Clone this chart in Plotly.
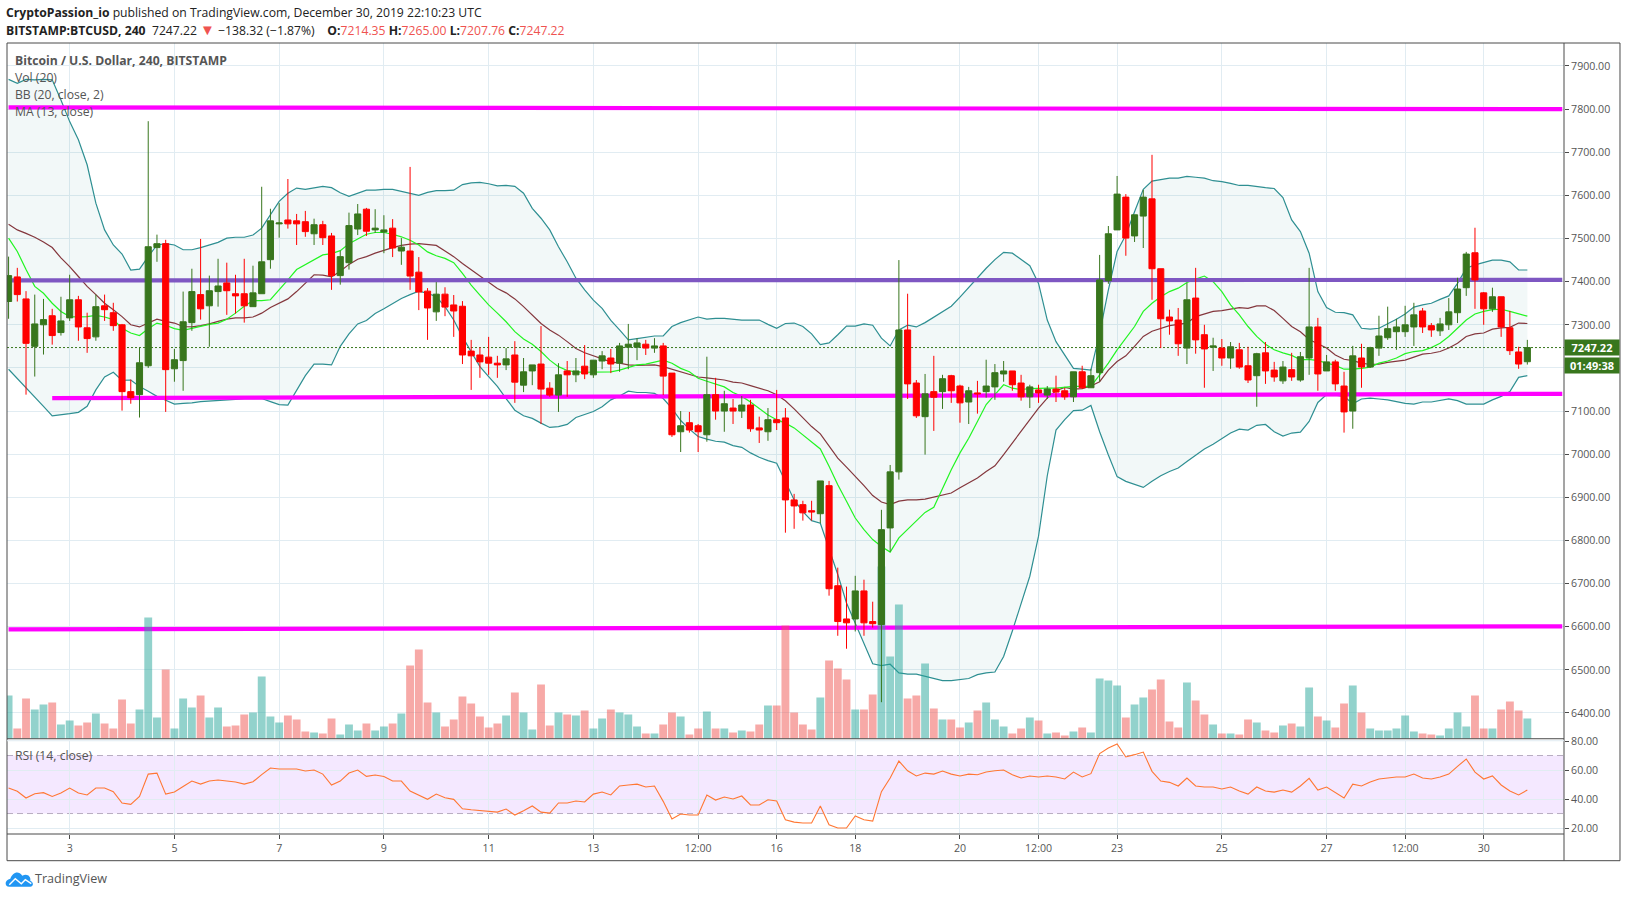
import re
import pandas as pd
import plotly.graph_objects as go

# 4h candles, BITSTAMP:BTCUSD
first_bar = pd.Timestamp("2019-12-01 20:00")
bar_hours = 4

open_ = [
    7354, 7411, 7360, 7250, 7300, 7321, 7282, 7316, 7358, 7293,
    7272, 7344, 7328, 7300, 7145, 7138, 7205, 7479, 7488, 7198,
    7217, 7305, 7370, 7344, 7377, 7397, 7372, 7372, 7342, 7372,
    7451, 7534, 7543, 7541, 7539, 7511, 7532, 7506, 7414, 7444,
    7522, 7568, 7520, 7515, 7524, 7471, 7471, 7422, 7378, 7330,
    7371, 7346, 7343, 7239, 7230, 7225, 7211, 7207, 7230, 7160,
    7193, 7209, 7153, 7137, 7193, 7184, 7204, 7184, 7216, 7223,
    7211, 7248, 7248, 7255, 7246, 7251, 7188, 7052, 7073, 7066,
    7045, 7138, 7100, 7107, 7100, 7114, 7061, 7052, 7080, 7084,
    6894, 6883, 6869, 6862, 6927, 6695, 6618, 6618, 6683, 6612,
    6605, 6829, 6959, 7288, 7165, 7087, 7145, 7145, 7182, 7158,
    7121, 7142, 7145, 7156, 7186, 7193, 7165, 7133, 7149, 7137,
    7151, 7147, 7133, 7191, 7154, 7189, 7402, 7520, 7596, 7506,
    7552, 7592, 7430, 7318, 7311, 7246, 7362, 7277, 7248, 7246,
    7223, 7242, 7205, 7182, 7235, 7195, 7170, 7196, 7172, 7223,
    7295, 7193, 7214, 7158, 7100, 7223, 7202, 7246, 7270, 7284,
    7284, 7295, 7332, 7298, 7286, 7300, 7328, 7386, 7467, 7374,
    7337, 7365, 7293, 7237, 7214.35,
]
high = [
    7458, 7432, 7378, 7370, 7360, 7337, 7365, 7416, 7367, 7328,
    7370, 7370, 7351, 7302, 7173, 7247, 7772, 7509, 7497, 7244,
    7377, 7430, 7499, 7414, 7453, 7444, 7416, 7453, 7437, 7620,
    7569, 7582, 7638, 7557, 7564, 7546, 7541, 7513, 7472, 7560,
    7580, 7571, 7568, 7554, 7545, 7501, 7666, 7457, 7385, 7399,
    7387, 7369, 7355, 7265, 7248, 7272, 7228, 7246, 7262, 7223,
    7207, 7297, 7167, 7211, 7216, 7223, 7253, 7218, 7239, 7244,
    7258, 7302, 7269, 7265, 7269, 7258, 7188, 7100, 7098, 7070,
    7226, 7177, 7147, 7128, 7135, 7126, 7087, 7107, 7149, 7107,
    6908, 6892, 6892, 6938, 6938, 6737, 6693, 6718, 6709, 6658,
    6871, 6975, 7450, 7372, 7172, 7186, 7228, 7184, 7184, 7161,
    7156, 7170, 7219, 7209, 7216, 7193, 7184, 7161, 7161, 7158,
    7182, 7154, 7191, 7205, 7198, 7462, 7529, 7645, 7603, 7555,
    7613, 7694, 7430, 7335, 7339, 7397, 7432, 7300, 7270, 7267,
    7260, 7258, 7249, 7235, 7260, 7214, 7216, 7235, 7237, 7432,
    7316, 7230, 7219, 7191, 7251, 7256, 7249, 7321, 7342, 7314,
    7344, 7351, 7339, 7304, 7316, 7362, 7409, 7469, 7525, 7376,
    7386, 7365, 7332, 7249, 7265.00,
]
low = [
    7314, 7354, 7138, 7180, 7231, 7254, 7275, 7309, 7263, 7235,
    7263, 7309, 7286, 7101, 7117, 7085, 7200, 7446, 7098, 7168,
    7147, 7286, 7312, 7249, 7342, 7323, 7326, 7305, 7342, 7372,
    7430, 7502, 7523, 7485, 7504, 7485, 7485, 7381, 7393, 7428,
    7508, 7506, 7513, 7466, 7457, 7439, 7381, 7334, 7265, 7309,
    7320, 7272, 7209, 7149, 7177, 7184, 7177, 7195, 7119, 7144,
    7160, 7070, 7133, 7098, 7133, 7167, 7174, 7177, 7197, 7188,
    7191, 7197, 7218, 7230, 7235, 7137, 7040, 7005, 7050, 7005,
    7029, 7080, 7052, 7070, 7084, 7052, 7026, 7031, 7056, 6818,
    6827, 6846, 6846, 6840, 6672, 6579, 6549, 6589, 6579, 6598,
    6425, 6774, 6941, 7128, 7084, 6999, 7054, 7105, 7119, 7073,
    7070, 7094, 7131, 7126, 7168, 7147, 7124, 7107, 7119, 7128,
    7121, 7126, 7121, 7151, 7154, 7168, 7395, 7520, 7460, 7492,
    7478, 7358, 7246, 7277, 7228, 7209, 7233, 7154, 7193, 7205,
    7198, 7198, 7165, 7110, 7163, 7168, 7163, 7170, 7168, 7184,
    7147, 7193, 7147, 7050, 7059, 7154, 7200, 7228, 7265, 7242,
    7272, 7251, 7281, 7272, 7274, 7288, 7304, 7367, 7337, 7300,
    7330, 7272, 7230, 7198, 7207.76,
]
close = [
    7414, 7370, 7257, 7302, 7312, 7275, 7309, 7358, 7295, 7268,
    7342, 7335, 7298, 7145, 7131, 7212, 7481, 7488, 7196, 7219,
    7307, 7377, 7337, 7379, 7390, 7379, 7367, 7344, 7374, 7446,
    7541, 7536, 7534, 7534, 7516, 7532, 7502, 7414, 7458, 7530,
    7557, 7517, 7524, 7520, 7478, 7480, 7413, 7376, 7339, 7371,
    7341, 7332, 7230, 7228, 7214, 7211, 7207, 7221, 7167, 7191,
    7207, 7151, 7137, 7184, 7184, 7193, 7186, 7218, 7228, 7209,
    7251, 7255, 7258, 7246, 7251, 7181, 7045, 7066, 7056, 7052,
    7138, 7100, 7117, 7100, 7114, 7059, 7056, 7080, 7073, 6894,
    6880, 6864, 6866, 6938, 6688, 6612, 6609, 6683, 6609, 6607,
    6825, 6959, 7288, 7163, 7089, 7140, 7132, 7175, 7147, 7119,
    7147, 7140, 7158, 7189, 7193, 7161, 7133, 7156, 7142, 7151,
    7144, 7133, 7191, 7154, 7182, 7404, 7511, 7603, 7501, 7555,
    7596, 7430, 7314, 7309, 7256, 7358, 7265, 7244, 7251, 7223,
    7249, 7202, 7172, 7233, 7193, 7179, 7202, 7179, 7226, 7295,
    7186, 7214, 7163, 7098, 7228, 7202, 7247, 7274, 7291, 7295,
    7300, 7323, 7295, 7288, 7302, 7330, 7383, 7464, 7404, 7337,
    7365, 7295, 7240, 7209, 7247.22,
]
volume = [
    130, 31, 121, 88, 103, 109, 43, 55, 40, 49,
    76, 46, 31, 118, 46, 88, 364, 64, 208, 31,
    121, 94, 130, 64, 94, 37, 40, 73, 79, 187,
    67, 49, 70, 58, 22, 19, 16, 61, 13, 43,
    25, 46, 25, 37, 46, 76, 220, 268, 109, 79,
    37, 58, 127, 106, 67, 34, 46, 70, 139, 79,
    28, 163, 40, 79, 73, 70, 85, 31, 61, 88,
    79, 73, 37, 16, 16, 43, 79, 67, 13, 31,
    82, 31, 31, 19, 25, 22, 43, 100, 100, 340,
    79, 43, 28, 124, 235, 211, 178, 88, 88, 133,
    517, 247, 403, 121, 130, 226, 91, 58, 58, 34,
    49, 85, 109, 58, 37, 16, 31, 64, 55, 16,
    19, 10, 22, 34, 19, 181, 175, 160, 64, 103,
    124, 148, 178, 52, 34, 169, 115, 73, 43, 16,
    16, 13, 58, 49, 25, 19, 40, 46, 37, 154,
    67, 55, 34, 106, 160, 79, 31, 25, 25, 31,
    70, 22, 16, 13, 10, 31, 79, 37, 130, 31,
    31, 88, 112, 85, 61,
]
bb_upper = [
    7869, 7860, 7869, 7868, 7869, 7868, 7821, 7771, 7729, 7671,
    7582, 7520, 7485, 7464, 7427, 7429, 7458, 7485, 7488, 7485,
    7474, 7474, 7479, 7485, 7491, 7501, 7503, 7503, 7508, 7524,
    7555, 7586, 7605, 7617, 7614, 7618, 7621, 7618, 7606, 7598,
    7605, 7612, 7612, 7614, 7614, 7609, 7605, 7600, 7607, 7611,
    7611, 7612, 7625, 7629, 7630, 7627, 7622, 7623, 7621, 7605,
    7570, 7547, 7520, 7481, 7446, 7408, 7381, 7357, 7338, 7310,
    7288, 7265, 7268, 7271, 7274, 7274, 7296, 7305, 7311, 7318,
    7313, 7315, 7315, 7313, 7311, 7311, 7311, 7301, 7292, 7303,
    7304, 7296, 7279, 7254, 7258, 7277, 7297, 7297, 7302, 7299,
    7269, 7251, 7288, 7299, 7295, 7305, 7318, 7331, 7343, 7364,
    7387, 7410, 7431, 7451, 7468, 7466, 7451, 7437, 7396, 7311,
    7261, 7230, 7199, 7197, 7195, 7280, 7381, 7470, 7508, 7562,
    7614, 7633, 7637, 7640, 7640, 7644, 7642, 7640, 7634, 7632,
    7628, 7623, 7623, 7620, 7618, 7616, 7595, 7543, 7516, 7466,
    7377, 7340, 7329, 7328, 7323, 7292, 7290, 7292, 7302, 7313,
    7325, 7341, 7346, 7350, 7359, 7367, 7396, 7431, 7439, 7444,
    7450, 7450, 7446, 7427, 7427,
]
bb_lower = [
    7197, 7176, 7153, 7134, 7111, 7089, 7091, 7094, 7097, 7111,
    7149, 7179, 7190, 7171, 7172, 7157, 7146, 7134, 7125, 7116,
    7118, 7119, 7122, 7123, 7124, 7125, 7127, 7129, 7129, 7129,
    7122, 7115, 7114, 7149, 7182, 7209, 7209, 7207, 7250, 7279,
    7302, 7310, 7326, 7337, 7350, 7361, 7370, 7378, 7373, 7365,
    7342, 7311, 7272, 7238, 7203, 7180, 7157, 7129, 7102, 7089,
    7083, 7072, 7062, 7064, 7069, 7085, 7092, 7099, 7110, 7126,
    7135, 7146, 7143, 7143, 7141, 7129, 7106, 7078, 7058, 7041,
    7035, 7030, 7028, 7020, 7016, 7003, 6993, 6985, 6979, 6937,
    6894, 6867, 6846, 6840, 6782, 6721, 6655, 6609, 6562, 6514,
    6510, 6513, 6493, 6490, 6490, 6485, 6480, 6475, 6475, 6478,
    6480, 6489, 6493, 6495, 6531, 6590, 6655, 6717, 6810, 6950,
    7056, 7080, 7101, 7102, 7113, 7052, 6998, 6948, 6937, 6930,
    6923, 6937, 6950, 6960, 6968, 6983, 6998, 7012, 7023, 7035,
    7049, 7058, 7056, 7067, 7069, 7052, 7042, 7049, 7051, 7076,
    7120, 7138, 7137, 7134, 7117, 7128, 7130, 7128, 7126, 7122,
    7118, 7116, 7121, 7121, 7124, 7128, 7124, 7116, 7116, 7116,
    7126, 7134, 7145, 7178, 7182,
]
bb_basis = [
    7533, 7520, 7512, 7503, 7492, 7479, 7455, 7435, 7412, 7389,
    7370, 7350, 7335, 7319, 7300, 7295, 7304, 7313, 7308, 7304,
    7296, 7295, 7298, 7302, 7308, 7313, 7316, 7316, 7318, 7327,
    7340, 7350, 7360, 7377, 7397, 7416, 7415, 7411, 7424, 7440,
    7452, 7458, 7466, 7473, 7479, 7484, 7487, 7488, 7486, 7484,
    7471, 7458, 7442, 7427, 7413, 7398, 7384, 7374, 7360, 7342,
    7323, 7303, 7288, 7276, 7261, 7245, 7235, 7228, 7221, 7214,
    7211, 7207, 7206, 7207, 7207, 7203, 7197, 7191, 7186, 7179,
    7177, 7174, 7172, 7167, 7165, 7159, 7153, 7147, 7138, 7124,
    7105, 7084, 7064, 7047, 7018, 6991, 6970, 6949, 6927, 6904,
    6889, 6883, 6891, 6894, 6894, 6896, 6901, 6905, 6910, 6922,
    6933, 6945, 6960, 6973, 6999, 7026, 7054, 7080, 7107, 7130,
    7147, 7155, 7151, 7152, 7158, 7168, 7195, 7215, 7228, 7250,
    7273, 7285, 7292, 7298, 7301, 7304, 7319, 7325, 7331, 7333,
    7336, 7340, 7338, 7344, 7344, 7333, 7315, 7296, 7284, 7266,
    7256, 7246, 7230, 7220, 7217, 7211, 7208, 7209, 7213, 7216,
    7218, 7225, 7232, 7234, 7238, 7246, 7257, 7273, 7279, 7281,
    7290, 7293, 7294, 7304, 7303,
]
ma13 = [
    7501, 7470, 7428, 7389, 7373, 7350, 7331, 7319, 7318, 7319,
    7322, 7318, 7312, 7292, 7281, 7275, 7291, 7304, 7299, 7291,
    7287, 7292, 7296, 7301, 7304, 7313, 7327, 7343, 7356, 7356,
    7358, 7380, 7404, 7428, 7439, 7452, 7462, 7465, 7472, 7488,
    7500, 7510, 7514, 7514, 7510, 7504, 7496, 7485, 7469, 7460,
    7454, 7444, 7419, 7392, 7369, 7346, 7327, 7307, 7284, 7267,
    7255, 7238, 7218, 7203, 7194, 7191, 7190, 7190, 7190, 7191,
    7195, 7201, 7207, 7209, 7214, 7218, 7211, 7199, 7191, 7176,
    7169, 7163, 7156, 7143, 7134, 7121, 7107, 7091, 7080, 7072,
    7061, 7045, 7030, 7012, 6972, 6929, 6891, 6852, 6825, 6802,
    6786, 6773, 6806, 6825, 6844, 6865, 6877, 6921, 6964, 7003,
    7037, 7076, 7115, 7138, 7161, 7153, 7150, 7152, 7153, 7153,
    7153, 7155, 7157, 7157, 7157, 7184, 7211, 7242, 7269, 7296,
    7331, 7350, 7365, 7377, 7385, 7398, 7406, 7413, 7400, 7377,
    7346, 7323, 7296, 7273, 7255, 7242, 7235, 7229, 7219, 7220,
    7217, 7211, 7206, 7197, 7197, 7199, 7202, 7211, 7216, 7223,
    7233, 7238, 7240, 7247, 7257, 7273, 7292, 7311, 7325, 7331,
    7335, 7336, 7331, 7325, 7320,
]
rsi = [
    47.6, 45.3, 40.7, 43.7, 44.4, 41.8, 44.1, 47.6, 44.1, 42.8,
    47.6, 47.6, 45.1, 37.2, 36.3, 41.8, 57.2, 57.9, 43.4, 44.8,
    48.7, 52.4, 50.3, 52.4, 53.1, 52.4, 51.7, 50.3, 51.9, 56.8,
    61.4, 60.7, 60.7, 60.7, 59.3, 60, 57.2, 49.7, 52.4, 57.9,
    60, 55.6, 56.6, 55.6, 52.4, 52.4, 45.5, 42.5, 39.8, 43.4,
    40.9, 39.8, 33.3, 32.6, 32, 31.7, 31, 33.1, 29, 32,
    35.2, 31, 30.3, 37.3, 37.3, 38.6, 38, 43.4, 44.8, 42.8,
    49, 49.7, 50.3, 48.3, 49, 38.4, 26.2, 29.7, 29, 29,
    42.8, 39.3, 41.4, 40, 42.1, 35.9, 35.9, 39.5, 38.6, 25.7,
    24.1, 23.5, 23.5, 35.2, 22.3, 20, 20, 28.3, 25.7, 24.8,
    45.1, 54.5, 66.2, 59.5, 55.9, 57.9, 57.2, 59.3, 57.2, 55.9,
    57.2, 56.8, 58.6, 59.5, 60, 56.8, 54.5, 55.9, 55.2, 55.9,
    55.2, 53.8, 58.6, 55.2, 57.5, 71.3, 75.2, 78, 69, 70.6,
    72.4, 59.1, 52.4, 51.5, 49, 54.5, 49, 48.3, 48.3, 46.9,
    48.3, 45.5, 43.4, 48.3, 45.5, 44.8, 46.2, 44.8, 49, 54.3,
    46.2, 48.3, 44.8, 40.7, 50.3, 49, 51.7, 53.8, 54.5, 55.2,
    55.2, 57.2, 54.5, 53.8, 55.2, 57.2, 62.5, 67.6, 58.6, 53.8,
    55.9, 49.7, 45.5, 42.8, 46.2,
]

# drawn levels: bar where it starts, price at start, price at end
magenta_levels = [(0, 7804, 7800), (5, 7130, 7140), (0, 6594, 6601)]
purple_level = (0, 7403, 7404)

price_ticks = [6400, 6500, 6600, 6700, 6800, 6900, 7000, 7100, 7200, 7300, 7400, 7500, 7600, 7700, 7800, 7900]
rsi_ticks = [20, 40, 60, 80]
time_tick_bars = [7, 19, 31, 43, 55, 67, 79, 88, 97, 109, 118, 127, 139, 151, 160, 169]
time_tick_labels = ["3", "5", "7", "9", "11", "13", "12:00", "16", "18", "20", "12:00", "23", "25", "27", "12:00", "30"]

W, H = 1627, 898
LEFT, RIGHT, TOP, BOTTOM = 6.7, 1564, 43, 834.3
PANE_SPLIT_TOP, PANE_SPLIT_BOT = 739, 741
FONT = "Open Sans"
TXT = "#555555"
GRID = "#e1ecf2"
FRAME = "#4a4a4a"
GREEN = "#38761d"
RED = "#ff0000"


def bar_time(i):
    return first_bar + pd.Timedelta(hours=bar_hours * i)


def xp(px):
    return (px - LEFT) / (RIGHT - LEFT)


def yp(py):
    return (BOTTOM - py) / (BOTTOM - TOP)


def to_paper(path):
    # svg path written in picture pixels -> paper coords
    return re.sub(r"([\d.]+),([\d.]+)", lambda m: f"{xp(float(m[1])):.5f},{yp(float(m[2])):.5f}", path)


times = [bar_time(i) for i in range(len(close))]
x_start, x_end = bar_time(-0.18), bar_time(178.2)
line_end = bar_time(178)

price_dom = [(BOTTOM - PANE_SPLIT_TOP) / (BOTTOM - TOP), 1]
rsi_dom = [0, (BOTTOM - PANE_SPLIT_BOT) / (BOTTOM - TOP)]
price_range = [6340.3, 7953.3]
vol_range = [0, 2087]
rsi_range = [15.9, 80.2]

fig = go.Figure()

# bands first, then levels. volume and candles sit on overlay axes above them
fig.add_trace(go.Scatter(x=times, y=bb_upper, mode="lines", line=dict(color="#2e8f92", width=1.2), yaxis="y"))
fig.add_trace(go.Scatter(x=times, y=bb_lower, mode="lines", line=dict(color="#2e8f92", width=1.2), yaxis="y",
                         fill="tonexty", fillcolor="rgba(38,130,130,0.06)"))
fig.add_trace(go.Scatter(x=times, y=bb_basis, mode="lines", line=dict(color="#84373d", width=1.2), yaxis="y"))
fig.add_trace(go.Scatter(x=times, y=ma13, mode="lines", line=dict(color="#22f522", width=1.2), yaxis="y"))
fig.add_trace(go.Scatter(x=[x_start, x_end], y=[close[-1], close[-1]], mode="lines",
                         line=dict(color=GREEN, width=1, dash="2px,2px"), yaxis="y"))

for start, p0, p1 in magenta_levels:
    fig.add_trace(go.Scatter(x=[bar_time(start), line_end], y=[p0, p1], mode="lines",
                             line=dict(color="#ff00ff", width=4.2), yaxis="y"))
fig.add_trace(go.Scatter(x=[bar_time(purple_level[0]), line_end], y=[purple_level[1], purple_level[2]], mode="lines",
                         line=dict(color="#7e57c2", width=4.2), yaxis="y"))

vol_colors = ["rgba(38,166,154,0.5)" if c >= o else "rgba(239,83,80,0.5)" for o, c in zip(open_, close)]
fig.add_trace(go.Bar(x=times, y=volume, marker=dict(color=vol_colors, line=dict(width=0)),
                     width=bar_hours * 3600 * 1000 * 0.9, yaxis="y2"))

fig.add_trace(go.Candlestick(x=times, open=open_, high=high, low=low, close=close, yaxis="y3", whiskerwidth=0,
                             increasing=dict(line=dict(color=GREEN, width=1), fillcolor=GREEN),
                             decreasing=dict(line=dict(color=RED, width=1), fillcolor=RED)))

fig.add_trace(go.Scatter(x=times, y=rsi, mode="lines", line=dict(color="#ff7733", width=1.1), xaxis="x2", yaxis="y4"))

axis_font = dict(family=FONT, size=10.6, color=TXT)
shapes = [
    # rsi band
    dict(type="rect", xref="x2", yref="y4", x0=x_start, x1=x_end, y0=30, y1=70, layer="below",
         fillcolor="rgba(152,33,255,0.1)", line=dict(width=0)),
    dict(type="line", xref="x2", yref="y4", x0=x_start, x1=x_end, y0=70, y1=70, layer="below",
         line=dict(color="#b7acc0", width=1, dash="6px,4px")),
    dict(type="line", xref="x2", yref="y4", x0=x_start, x1=x_end, y0=30, y1=30, layer="below",
         line=dict(color="#b7acc0", width=1, dash="6px,4px")),
]
# frame and pane separators
frame_lines = [
    (LEFT, TOP, 1620, TOP), (LEFT, TOP, LEFT, 861), (1620, TOP, 1620, 861), (LEFT, 861, 1620, 861),
    (RIGHT, TOP, RIGHT, 861), (LEFT, BOTTOM, RIGHT, BOTTOM), (LEFT, PANE_SPLIT_TOP, RIGHT, PANE_SPLIT_TOP),
]
for x0, y0, x1, y1 in frame_lines:
    shapes.append(dict(type="line", xref="paper", yref="paper", x0=xp(x0), x1=xp(x1), y0=yp(y0), y1=yp(y1),
                       line=dict(color=FRAME, width=1)))
shapes.append(dict(type="line", xref="paper", yref="paper", x0=xp(LEFT), x1=xp(RIGHT), y0=yp(PANE_SPLIT_BOT), y1=yp(PANE_SPLIT_BOT),
                   line=dict(color=GRID, width=1)))
# TradingView logo
shapes.append(dict(type="path", xref="paper", yref="paper", fillcolor="#2196f3", line=dict(width=0),
                   path=to_paper("M 9,887 C 4,887 4,880 10,879 C 12,873 18,870 22,876 C 27,873 31,877 30,881 C 34,883 33,887 30,887 Z")))
shapes.append(dict(type="path", xref="paper", yref="paper", line=dict(color="#ffffff", width=1.4),
                   path=to_paper("M 9,885 L 15,879 L 21,884 L 25,880 L 31,884")))


def note(text, px, py, size=12.2, color=TXT, anchor="left"):
    # annotation boxes pad their text by about 3px
    return dict(text=text, x=xp(px - 3), y=yp(py), xref="paper", yref="paper", xanchor=anchor, yanchor="middle",
                showarrow=False, align="left", font=dict(family=FONT, size=size, color=color))


DARK = "#222222"
SOFT_RED = "#ef5350"
NB = "\u00a0"
line1 = "<b>CryptoPassion_io</b> published on TradingView.com, December 30, 2019 22:10:23 UTC"
line2 = (f"<b>BITSTAMP:BTCUSD, 240</b>{NB}{NB}7247.22 <span style='color:{SOFT_RED};font-size:15px'>▼</span> −138.32 (−1.87%){NB}{NB}{NB}{NB}"
         f"<b>O:</b><span style='color:{SOFT_RED}'>7214.35</span> <b>H:</b><span style='color:{SOFT_RED}'>7265.00</span> "
         f"<b>L:</b><span style='color:{SOFT_RED}'>7207.76</span> <b>C:</b><span style='color:{SOFT_RED}'>7247.22</span>")

annotations = [
    note(line1, 6.7, 12.3, color=DARK),
    note(line2, 6.7, 29.3, color=DARK),
    note("<b>Bitcoin / U.S. Dollar, 240, BITSTAMP</b>", 15.3, 60.7),
    note("Vol (20)", 15.3, 77.7),
    note("BB (20, close, 2)", 15.3, 95),
    note("MA (13, close)", 15.3, 111.7),
    note("RSI (14, close)", 15.3, 755.7),
    note("TradingView", 35.5, 879.3, size=12.6),
]
# last price and countdown labels on the price scale
annotations.append(dict(text="<b>7247.22</b>", x=xp(1592), y=close[-1], xref="paper", yref="y", showarrow=False,
                        xanchor="center", yanchor="middle", bgcolor=GREEN, width=52, height=13,
                        font=dict(family=FONT, size=11, color="#ffffff")))
annotations.append(dict(text="<b>01:49:38</b>", x=xp(1592), y=close[-1], xref="paper", yref="y", showarrow=False,
                        xanchor="center", yanchor="middle", yshift=-18.4, bgcolor=GREEN, width=52, height=13,
                        font=dict(family=FONT, size=11, color="#ffffff")))

fig.update_layout(
    width=W, height=H, paper_bgcolor="#ffffff", plot_bgcolor="#ffffff", showlegend=False, boxgap=0.3, boxgroupgap=0,
    margin=dict(l=LEFT, r=W - RIGHT, t=TOP, b=H - BOTTOM, pad=0),
    shapes=shapes, annotations=annotations, hovermode=False,
    xaxis=dict(domain=[0, 1], anchor="y", type="date", range=[x_start, x_end], showticklabels=False,
               showgrid=True, gridcolor=GRID, gridwidth=1, tickvals=[bar_time(i) for i in time_tick_bars],
               ticks="", zeroline=False, rangeslider=dict(visible=False)),
    yaxis=dict(domain=price_dom, anchor="x", side="right", range=price_range, tickvals=price_ticks, tickformat=".2f",
               showgrid=True, gridcolor=GRID, gridwidth=1, ticks="outside", ticklen=4, tickcolor=FRAME,
               tickfont=axis_font, zeroline=False),
    yaxis2=dict(domain=price_dom, anchor="x", overlaying="y", side="left", range=vol_range, visible=False),
    yaxis3=dict(domain=price_dom, anchor="x", overlaying="y", side="right", range=price_range, visible=False),
    xaxis2=dict(domain=[0, 1], anchor="y4", type="date", matches="x", range=[x_start, x_end],
                tickvals=[bar_time(i) for i in time_tick_bars], ticktext=time_tick_labels,
                showgrid=True, gridcolor=GRID, gridwidth=1, ticks="outside", ticklen=4, tickcolor=FRAME,
                tickfont=axis_font, zeroline=False, tickangle=0),
    yaxis4=dict(domain=rsi_dom, anchor="x2", side="right", range=rsi_range, tickvals=rsi_ticks, tickformat=".2f",
                showgrid=True, gridcolor=GRID, gridwidth=1, ticks="outside", ticklen=4, tickcolor=FRAME,
                tickfont=axis_font, zeroline=False),
)

fig.write_html("out.html", config=dict(displayModeBar=False), post_script="document.body.style.margin='0';")
